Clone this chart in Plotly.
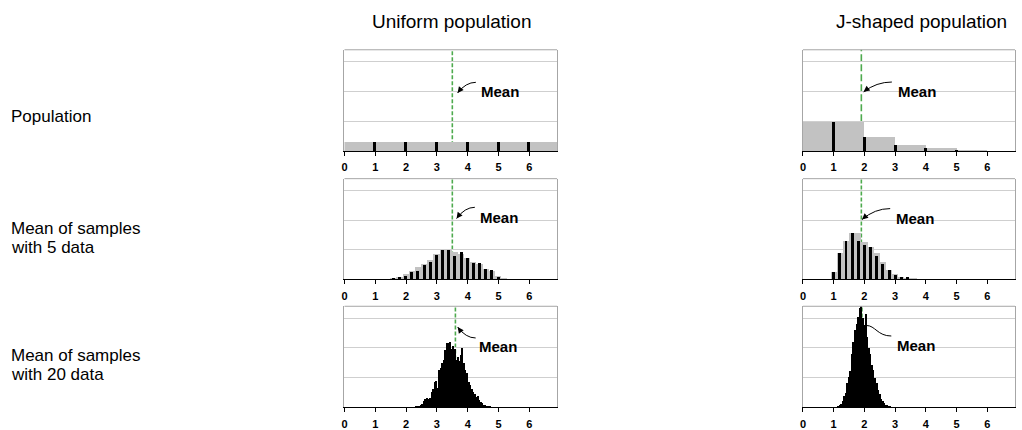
import plotly.graph_objects as go

W, H = 1022, 430
XMAX, YMAX = 6.9, 1.7

# ---------------- data ----------------
titles = ["Uniform population", "J-shaped population"]
row_labels = [["Population"], ["Mean of samples", "with 5 data"], ["Mean of samples", "with 20 data"]]
tick_vals = [0, 1, 2, 3, 4, 5, 6]
tick_text = ["0", "1", "2", "3", "4", "5", "6"]

# Row 1 : populations (gray = continuous histogram edges/heights, black = discrete spikes)
uni_pop_edges = [0, 6.9]
uni_pop_gray = [0.167]
uni_pop_x = [1, 2, 3, 4, 5, 6]
uni_pop_black = [0.167, 0.167, 0.167, 0.167, 0.167, 0.167]

j_pop_edges = [0, 2, 3, 4, 5, 6, 6.9]
j_pop_gray = [0.5, 0.245, 0.115, 0.055, 0.022, 0.008]
j_pop_x = [1, 2, 3, 4, 5, 6]
j_pop_black = [0.5, 0.245, 0.117, 0.055, 0.02, 0.008]

# Row 2 : means of samples with 5 data
m5_x = [1.0, 1.2, 1.4, 1.6, 1.8, 2.0, 2.2, 2.4, 2.6, 2.8, 3.0, 3.2, 3.4,
        3.6, 3.8, 4.0, 4.2, 4.4, 4.6, 4.8, 5.0, 5.2, 5.4, 5.6, 5.8, 6.0]
uni_m5_black = [0.0, 0.0, 0.004, 0.02, 0.045, 0.07, 0.13, 0.15, 0.25, 0.30, 0.42, 0.51, 0.51,
                0.40, 0.46, 0.36, 0.29, 0.29, 0.18, 0.17, 0.044, 0.012, 0.003, 0.0, 0.0, 0.0]
uni_m5_gray = [0.0, 0.001, 0.006, 0.02, 0.05, 0.09, 0.15, 0.21, 0.27, 0.33, 0.43, 0.51, 0.51,
               0.46, 0.44, 0.36, 0.30, 0.27, 0.18, 0.15, 0.06, 0.02, 0.004, 0.001, 0.0, 0.0]
j_m5_black = [0.128, 0.455, 0.65, 0.79, 0.65, 0.58, 0.545, 0.40, 0.26, 0.167, 0.078, 0.044, 0.04,
              0.01, 0.005, 0.003, 0.0, 0.0, 0.0, 0.0, 0.0, 0.0, 0.0, 0.0, 0.0, 0.0]
j_m5_gray = [0.128, 0.455, 0.65, 0.79, 0.79, 0.64, 0.56, 0.45, 0.30, 0.17, 0.10, 0.05, 0.03,
             0.015, 0.008, 0.004, 0.002, 0.0, 0.0, 0.0, 0.0, 0.0, 0.0, 0.0, 0.0, 0.0]

# Row 3 : means of samples with 20 data (bin width 0.05)
uni_m20_x = [2.35, 2.40, 2.45, 2.50, 2.55, 2.60, 2.65, 2.70, 2.75, 2.80, 2.85, 2.90, 2.95,
             3.00, 3.05, 3.10, 3.15, 3.20, 3.25, 3.30, 3.35, 3.40, 3.45, 3.50, 3.55, 3.60,
             3.65, 3.70, 3.75, 3.80, 3.85, 3.90, 3.95, 4.00, 4.05, 4.10, 4.15, 4.20, 4.25,
             4.30, 4.35, 4.40, 4.45, 4.50, 4.55, 4.60, 4.65, 4.70, 4.75]
uni_m20_y = [0.01, 0.02, 0.02, 0.03, 0.06, 0.10, 0.13, 0.15, 0.14, 0.16, 0.25, 0.30, 0.42,
             0.44, 0.33, 0.62, 0.66, 0.75, 0.80, 0.96, 1.08, 1.07, 1.10, 0.98, 1.03, 0.97,
             0.80, 0.85, 0.78, 0.88, 1.00, 0.75, 0.62, 0.58, 0.42, 0.38, 0.30, 0.26, 0.22,
             0.17, 0.18, 0.12, 0.08, 0.07, 0.04, 0.03, 0.015, 0.01, 0.005]
j_m20_x = [1.15, 1.20, 1.25, 1.30, 1.35, 1.40, 1.45, 1.50, 1.55, 1.60, 1.65, 1.70, 1.75,
           1.80, 1.85, 1.90, 1.95, 2.00, 2.05, 2.10, 2.15, 2.20, 2.25, 2.30, 2.35, 2.40,
           2.45, 2.50, 2.55, 2.60, 2.65, 2.70, 2.75, 2.80, 2.85]
j_m20_y = [0.01, 0.03, 0.06, 0.10, 0.18, 0.24, 0.40, 0.50, 0.60, 0.90, 1.10, 1.29, 1.40,
           1.52, 1.66, 1.72, 1.49, 1.38, 1.56, 1.18, 1.00, 0.90, 0.70, 0.62, 0.49, 0.40,
           0.29, 0.22, 0.13, 0.10, 0.07, 0.04, 0.03, 0.01, 0.005]

# population / sample means (green dashed lines)
means = [[3.5, 1.9], [3.5, 1.9], [3.6, 1.92]]

# ---------------- style / layout ----------------
GRAY = "#c2c2c2"
BLACK = "#000000"
GREEN = "#4eaa4e"
FRAME = "#a6a6a6"
GRID = "#cfcfcf"
FONT = "Liberation Sans, Arial, sans-serif"

PXX = 30.9   # pixels per x unit
PXY = 60.0   # pixels per y unit

xdom = [[342.5 / W, 555.7 / W], [802.3 / W, 1015.0 / W]]
ydom_px = [[50, 152], [179.5, 280.7], [307.7, 409.3]]
ydom = [[1 - b / H, 1 - t / H] for t, b in ydom_px]

fig = go.Figure()


def ax_id(r, c):
    n = r * 2 + c + 1
    return ("x" if n == 1 else f"x{n}"), ("y" if n == 1 else f"y{n}"), n


def edges_to_bar(edges, heights):
    centers = [(a + b) / 2 for a, b in zip(edges[:-1], edges[1:])]
    widths = [b - a for a, b in zip(edges[:-1], edges[1:])]
    return centers, widths


panels = {}
panels[(0, 0)] = [("gray", edges_to_bar(uni_pop_edges, uni_pop_gray), uni_pop_gray),
                  ("spike", uni_pop_x, uni_pop_black)]
panels[(0, 1)] = [("gray", edges_to_bar(j_pop_edges, j_pop_gray), j_pop_gray),
                  ("spike", j_pop_x, j_pop_black)]
panels[(1, 0)] = [("gray2", m5_x, uni_m5_gray), ("spike", m5_x, uni_m5_black)]
panels[(1, 1)] = [("gray2", m5_x, j_m5_gray), ("spike", m5_x, j_m5_black)]
panels[(2, 0)] = [("hist", uni_m20_x, uni_m20_y)]
panels[(2, 1)] = [("hist", j_m20_x, j_m20_y)]

for (r, c), items in panels.items():
    xa, ya, n = ax_id(r, c)
    for kind, xs, ys in items:
        if kind == "gray":
            centers, widths = xs
            fig.add_trace(go.Bar(x=centers, y=ys, width=widths, marker_color=GRAY,
                                 marker_line_width=0, xaxis=xa, yaxis=ya, showlegend=False))
        elif kind == "gray2":
            fig.add_trace(go.Bar(x=xs, y=ys, width=0.2, marker_color=GRAY,
                                 marker_line_width=0, xaxis=xa, yaxis=ya, showlegend=False))
        elif kind == "spike":
            fig.add_trace(go.Bar(x=xs, y=ys, width=0.095, marker_color=BLACK,
                                 marker_line_width=0, xaxis=xa, yaxis=ya, showlegend=False))
        else:
            fig.add_trace(go.Bar(x=xs, y=ys, width=0.05, marker_color=BLACK,
                                 marker_line_width=0, xaxis=xa, yaxis=ya, showlegend=False))

    xkey = "xaxis" if n == 1 else f"xaxis{n}"
    ykey = "yaxis" if n == 1 else f"yaxis{n}"
    fig.layout[xkey] = dict(domain=xdom[c], range=[0, XMAX], anchor=ya, tickvals=tick_vals,
                            ticktext=tick_text, ticks="outside", ticklen=4, tickwidth=1,
                            tickcolor=BLACK, showline=True, linecolor=BLACK, linewidth=1,
                            showgrid=False, zeroline=False, fixedrange=True,
                            tickfont=dict(family=FONT, size=11, color=BLACK, weight="bold"),
                            ticklabelstandoff=2)
    fig.layout[ykey] = dict(domain=ydom[r], range=[0, YMAX], anchor=xa, dtick=0.5,
                            showticklabels=False, ticks="", showgrid=True, gridcolor=GRID,
                            gridwidth=1, zeroline=False, showline=True, linecolor=FRAME,
                            linewidth=1, mirror=True, fixedrange=True)
    fig.add_shape(type="line", xref=f"{xa} domain", yref=f"{ya} domain", x0=0, x1=1, y0=1, y1=1,
                  line=dict(color=FRAME, width=1), layer="above")
    m = means[r][c]
    dash = "7px,3px" if (r, c) == (0, 1) else "4px,2px"
    fig.add_shape(type="line", xref=xa, yref=f"{ya} domain", x0=m, x1=m, y0=0, y1=1,
                  line=dict(color=GREEN, width=1.6, dash=dash), layer="below")

# ---------------- "Mean" labels with curved arrows (pixel offsets from mean line) ----------------
# (text_dx, text_y, start_dx, start_y, tip_dx, tip_y, arrowhead)
label_geo = {
    (0, 0): (26.5, 1.0, 23.6, 1.155, 5.3, 0.978, True),
    (0, 1): (34.5, 1.0, 30.7, 1.16, 2.3, 0.995, True),
    (1, 0): (25.8, 1.05, 22.6, 1.217, 4.3, 1.028, True),
    (1, 1): (33.2, 1.03, 29, 1.195, 0.7, 1.01, True),
    (2, 0): (21.8, 1.017, 20.3, 1.167, 2.3, 1.35, True),
    (2, 1): (33.0, 1.043, 29.5, 1.2, 4.5, 1.377, False),
}

for (r, c), (tdx, ty, sdx, sy, pdx, py, head) in label_geo.items():
    xa, ya, n = ax_id(r, c)
    m = means[r][c]
    tx = m + tdx / PXX
    sx = m + sdx / PXX
    px = m + pdx / PXX
    fig.add_annotation(x=tx, y=ty, xref=xa, yref=ya, text="Mean", showarrow=False,
                       xanchor="left", yanchor="middle",
                       font=dict(family=FONT, size=15, color=BLACK, weight="bold"))
    if head:
        cx = px + 0.45 * (sx - px)
        cy = sy
        path = f"M {sx},{sy} Q {cx},{cy} {px},{py}"
        tan_dx = (cx - px) * PXX
        tan_dy = -(cy - py) * PXY
    else:
        c1x = px + 0.35 * (sx - px)
        c2x = px + 0.45 * (sx - px)
        path = f"M {px},{py} C {c1x},{py} {c2x},{sy} {sx},{sy}"
    fig.add_shape(type="path", xref=xa, yref=ya, path=path,
                  line=dict(color=BLACK, width=1), layer="above")
    if head:
        L = (tan_dx ** 2 + tan_dy ** 2) ** 0.5
        fig.add_annotation(x=px, y=py, xref=xa, yref=ya, text="", showarrow=True,
                           ax=5 * tan_dx / L, ay=5 * tan_dy / L, arrowhead=2, arrowsize=1,
                           arrowwidth=1.2, arrowcolor=BLACK, standoff=0)

# ---------------- titles & row labels ----------------
fig.add_annotation(x=450 / W, y=1 - 22 / H, xref="paper", yref="paper", text=titles[0],
                   showarrow=False, xanchor="center", yanchor="middle",
                   font=dict(family=FONT, size=19, color=BLACK))
fig.add_annotation(x=921 / W, y=1 - 22 / H, xref="paper", yref="paper", text=titles[1],
                   showarrow=False, xanchor="center", yanchor="middle",
                   font=dict(family=FONT, size=19, color=BLACK))
row_line_y = [[117], [230, 249], [357, 376]]
for labs, ys in zip(row_labels, row_line_y):
    for lab, yy in zip(labs, ys):
        fig.add_annotation(x=6 / W, y=1 - yy / H, xref="paper", yref="paper", text=lab,
                           showarrow=False, xanchor="left", yanchor="middle", align="left",
                           font=dict(family=FONT, size=17, color=BLACK))

fig.update_layout(width=W, height=H, margin=dict(l=0, r=0, t=0, b=0),
                  paper_bgcolor="white", plot_bgcolor="white", barmode="overlay",
                  bargap=0, showlegend=False)

fig.write_html("out.html", config={"displayModeBar": False})
